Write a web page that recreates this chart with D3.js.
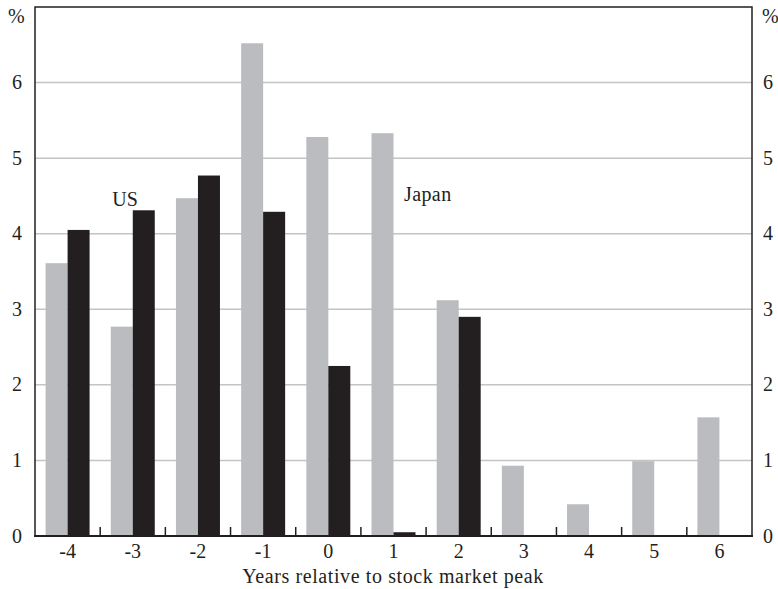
<!DOCTYPE html>
<html><head><meta charset="utf-8">
<script src="https://cdn.jsdelivr.net/npm/d3@7"></script>
<style>body{margin:0;background:#fff;} svg{display:block;font-family:"Liberation Serif","Times New Roman",serif;}</style>
</head><body>
<svg id="c" width="778" height="589"></svg>
<script>
const years = ["-4","-3","-2","-1","0","1","2","3","4","5","6"];
const japan = [3.61,2.77,4.47,6.52,5.28,5.33,3.12,0.93,0.42,0.99,1.57];
const us = [4.05,4.31,4.77,4.29,2.25,0.05,2.90,null,null,null,null];
const yTicks = [0,1,2,3,4,5,6];

const svg = d3.select("#c");
const L=35, R=752, T=7, B=536;
const x = d3.scaleBand().domain(years).range([L,R]);
const y = d3.scaleLinear().domain([0,7]).range([B,T]);
const bw = 22;

// gridlines
svg.append("g").selectAll("line").data(yTicks.filter(d=>d>0)).join("line")
  .attr("x1",L).attr("x2",R).attr("y1",d=>y(d)).attr("y2",d=>y(d))
  .attr("stroke","#c4c4c6").attr("stroke-width",1.5);

// bars
svg.append("g").selectAll("rect").data(years).join("rect")
  .attr("x",d=>x(d)+x.bandwidth()/2-bw).attr("width",bw)
  .attr("y",(d,i)=>y(japan[i])).attr("height",(d,i)=>B-y(japan[i]))
  .attr("fill","#bbbcc0");
svg.append("g").selectAll("rect").data(years.filter((d,i)=>us[i]!=null)).join("rect")
  .attr("x",d=>x(d)+x.bandwidth()/2).attr("width",bw)
  .attr("y",d=>y(us[years.indexOf(d)])).attr("height",d=>B-y(us[years.indexOf(d)]))
  .attr("fill","#231f20");

// frame
svg.append("path").attr("d",`M${L},${B}V${T}H${R}V${B}`).attr("fill","none").attr("stroke","#231f20").attr("stroke-width",1.5);
svg.append("line").attr("x1",L-1).attr("x2",R+1).attr("y1",B).attr("y2",B).attr("stroke","#231f20").attr("stroke-width",2);

// inner ticks at band boundaries
svg.append("g").selectAll("line").data(years.slice(1)).join("line")
  .attr("x1",d=>x(d)).attr("x2",d=>x(d)).attr("y1",B).attr("y2",B-9)
  .attr("stroke","#231f20").attr("stroke-width",1.5);

const fs = 20;
// x tick labels
svg.append("g").selectAll("text").data(years).join("text")
  .attr("x",d=>x(d)+x.bandwidth()/2).attr("y",558).attr("text-anchor","middle")
  .attr("font-size",fs).attr("fill","#231f20").text(d=>d);
// y tick labels
svg.append("g").selectAll("text").data(yTicks).join("text")
  .attr("x",22).attr("y",d=>y(d)+6.5).attr("text-anchor","end")
  .attr("font-size",fs).attr("fill","#231f20").text(d=>d);
svg.append("g").selectAll("text").data(yTicks).join("text")
  .attr("x",763).attr("y",d=>y(d)+6.5).attr("text-anchor","start")
  .attr("font-size",fs).attr("fill","#231f20").text(d=>d);
svg.append("text").attr("x",8).attr("y",23).attr("font-size",fs).attr("fill","#231f20").text("%");
svg.append("text").attr("x",762).attr("y",23).attr("font-size",fs).attr("fill","#231f20").text("%");

svg.append("text").attr("x",393).attr("y",583).attr("text-anchor","middle")
  .attr("font-size",fs).attr("letter-spacing",0.6).attr("fill","#231f20").text("Years relative to stock market peak");
svg.append("text").attr("x",125).attr("y",206).attr("text-anchor","middle")
  .attr("font-size",fs).attr("fill","#231f20").text("US");
svg.append("text").attr("x",404).attr("y",201).attr("letter-spacing",0.4)
  .attr("font-size",fs).attr("fill","#231f20").text("Japan");
</script>
</body></html>
